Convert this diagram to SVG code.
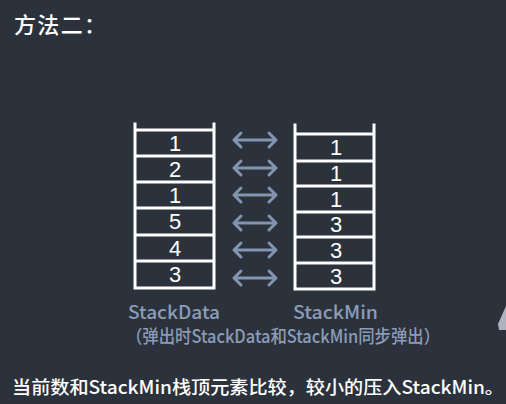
<svg xmlns="http://www.w3.org/2000/svg" width="506" height="404" viewBox="0 0 506 404">
<defs>
<style>
.bg{fill:#2b323b}
.ln{stroke:#ffffff;stroke-width:3;fill:none;stroke-linecap:square}
.num{fill:#ffffff;font-family:"Liberation Sans","Noto Sans CJK SC",sans-serif;font-size:22px;text-anchor:middle}
.lab{fill:#8c9cb8;font-family:"Noto Sans CJK SC",sans-serif;font-size:18px;font-weight:500}
.txt{fill:#ffffff;font-family:"Noto Sans CJK SC",sans-serif}
.arr{stroke:#8294b0;stroke-width:3;fill:none;stroke-linecap:round;stroke-linejoin:round}
</style>
</defs>
<rect class="bg" x="0" y="0" width="506" height="404"/>
<g id="title"><text class="txt" x="14" y="33" font-size="22" font-weight="500" textLength="92">方法二：</text></g>
<g id="stackData">
<path class="ln" d="M135 124 V288 H214 V124"/>
<path class="ln" d="M137 130 H212 M137 156 H212 M137 182 H212 M137 208 H212 M137 235 H212 M137 261 H212"/>
<text class="num" x="175" y="151">1</text>
<text class="num" x="175" y="177">2</text>
<text class="num" x="175" y="203">1</text>
<text class="num" x="175" y="229">5</text>
<text class="num" x="175" y="256">4</text>
<text class="num" x="175" y="282">3</text>
</g>
<g id="stackMin">
<path class="ln" d="M295 125 V289 H374 V125"/>
<path class="ln" d="M297 134 H372 M297 161 H372 M297 186 H372 M297 212 H372 M297 237 H372 M297 263 H372"/>
<text class="num" x="336" y="155">1</text>
<text class="num" x="336" y="181">1</text>
<text class="num" x="336" y="207">1</text>
<text class="num" x="336" y="232">3</text>
<text class="num" x="336" y="258">3</text>
<text class="num" x="336" y="284">3</text>
</g>
<g id="connectors">
<path class="arr" d="M234 140 H276 M241 133 L234 140 L241 147 M269 133 L276 140 L269 147"/>
<path class="arr" d="M234 168 H276 M241 161 L234 168 L241 175 M269 161 L276 168 L269 175"/>
<path class="arr" d="M234 195 H276 M241 188 L234 195 L241 202 M269 188 L276 195 L269 202"/>
<path class="arr" d="M234 223 H276 M241 216 L234 223 L241 230 M269 216 L276 223 L269 230"/>
<path class="arr" d="M234 250 H276 M241 243 L234 250 L241 257 M269 243 L276 250 L269 257"/>
<path class="arr" d="M234 278 H276 M241 271 L234 278 L241 285 M269 271 L276 278 L269 285"/>
</g>
<g id="labels">
<text class="lab" x="128" y="319" textLength="92" lengthAdjust="spacingAndGlyphs">StackData</text>
<text class="lab" x="293" y="319" textLength="85" lengthAdjust="spacingAndGlyphs">StackMin</text>
<text class="lab" x="126" y="343" textLength="314" lengthAdjust="spacingAndGlyphs">（弹出时StackData和StackMin同步弹出）</text>
</g>
<g id="caption"><text class="txt" x="12" y="394" font-size="18" font-weight="500" textLength="492" lengthAdjust="spacingAndGlyphs">当前数和StackMin栈顶元素比较，较小的压入StackMin。</text></g>
<polygon points="506,306 498,324 499,330 506,330" fill="#aeb2bf"/>
</svg>
